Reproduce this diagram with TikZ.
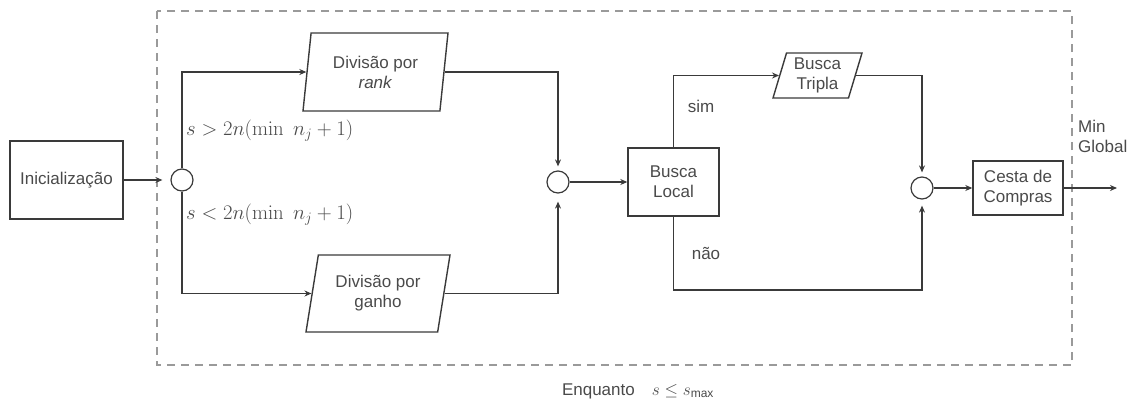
\documentclass[tikz,border=0pt]{standalone}
\usepackage[no-math]{fontspec}
\setmainfont{Liberation Sans}
\usetikzlibrary{shapes.geometric,arrows.meta,calc}
\definecolor{ln}{HTML}{3A3A3A}
\definecolor{tx}{HTML}{4A4A4A}
\definecolor{dsh}{HTML}{9A9A9A}
\tikzset{
  every node/.style={font=\fontsize{17}{20}\selectfont, text=tx},
  box/.style={draw=ln, line width=1.4pt, rectangle, align=center, inner sep=0pt},
  para/.style={draw=ln, line width=1.4pt, trapezium, trapezium stretches body, align=center, inner sep=0pt},
  junc/.style={draw=ln, line width=1.2pt, circle, minimum size=22pt, inner sep=0pt},
  conn/.style={draw=ln, line width=1.3pt},
  arr/.style={conn, -{Stealth[length=7pt,width=6pt]}},
  lbl/.style={inner sep=0pt},
  mlbl/.style={inner sep=0pt, anchor=west, font=\fontsize{19.5}{22}\selectfont},
  loopbox/.style={draw=dsh, line width=1.8pt, dash pattern=on 8pt off 6pt}
}
\begin{document}
\begin{tikzpicture}[x=1pt,y=-1pt]
\useasboundingbox (0,0) rectangle (1136,408);
\draw[loopbox] (157,11) rectangle (1072,365);

\node[box, minimum width=113pt, minimum height=78pt] (init) at (66.5,180) {Inicialização};
\node[junc] (c1) at (182,180) {};
\node[para, trapezium left angle=76, trapezium right angle=104, minimum width=145pt, minimum height=78pt] (dr) at (375.5,72) {Divisão por\\\textit{rank}};
\node[para, trapezium left angle=71, trapezium right angle=109, minimum width=144pt, minimum height=77pt] (dg) at (378,293.5) {Divisão por\\ganho};
\node[junc] (c2) at (558,182) {};
\node[box, minimum width=91pt, minimum height=68pt] (bl) at (673.5,182) {Busca\\Local};
\node[para, trapezium left angle=69, trapezium right angle=111, minimum width=89pt, minimum height=45pt] (bt) at (817.5,75.5) {Busca\\Tripla};
\node[junc] (c3) at (922,188) {};
\node[box, minimum width=90pt, minimum height=54pt] (cc) at (1018,188) {Cesta de\\Compras};
\coordinate (nb) at (922,290);
\coordinate (out) at (1117,188);

\draw[arr, shorten >=8pt] (init.east) -- (c1.west);
\draw[arr] (c1.north) |- (dr.west);
\draw[arr] (c1.south) |- (dg.west);
\draw[arr, shorten >=4pt] (dr.east) -| (c2.north);
\draw[arr, shorten >=8pt] (dg.east) -| (c2.south);
\draw[arr] (c2.east) -- (bl.west);
\draw[arr] (bl.north) |- (bt.west);
\draw[arr, shorten >=6pt] (bl.south) |- (nb) -- (c3.south);
\draw[arr, shorten >=4pt] (bt.east) -| (c3.north);
\draw[arr] (c3.east) -- (cc.west);
\draw[arr] (cc.east) -- (out);

\node[mlbl] (l1) at (186,131) {$s > 2n(\min\; n_j + 1)$};
\node[mlbl] (l2) at (186,215) {$s < 2n(\min\; n_j + 1)$};
\node[lbl] (sim) at (701,106) {sim};
\node[lbl] (nao) at (706,253) {não};
\node[lbl, align=left, anchor=west] (mg) at (1078,136) {Min\\Global};
\node[lbl] (enq) at (638,391) {Enquanto\quad$s \le s_{\mbox{\fontsize{12}{12}\selectfont max}}$};
\end{tikzpicture}
\end{document}
